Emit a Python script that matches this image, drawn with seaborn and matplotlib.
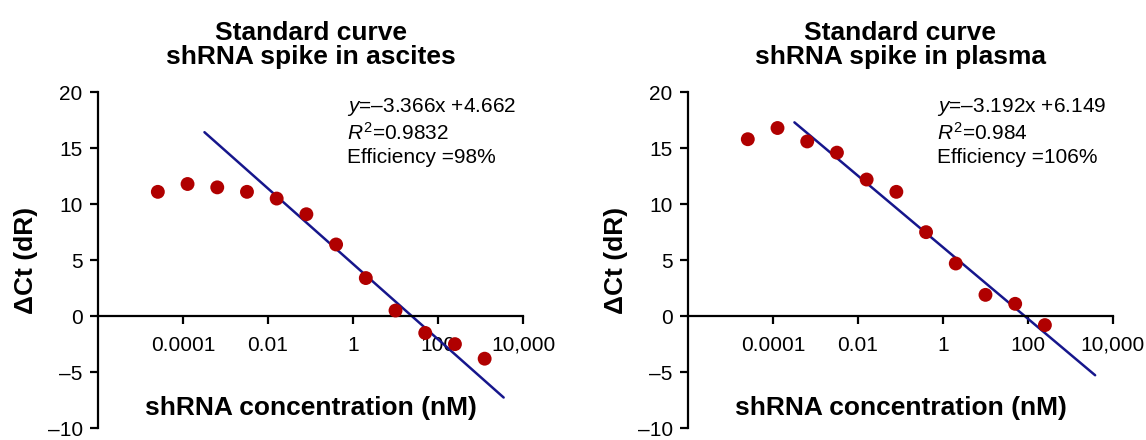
import numpy as np
import pandas as pd
import seaborn as sns
import matplotlib.pyplot as plt

# 5-fold dilution series (nM)
conc = [0.0000256, 0.000128, 0.00064, 0.0032, 0.016, 0.08, 0.4, 2, 10, 50, 250, 1250]

# delta Ct
ascites_dct = [11.1, 11.8, 11.5, 11.1, 10.5, 9.1, 6.4, 3.4, 0.5, -1.5, -2.5, -3.8]
plasma_dct = [15.8, 16.8, 15.6, 14.6, 12.2, 11.1, 7.5, 4.7, 1.9, 1.1, -0.8]

# fitted lines as printed on the chart, with the x-range they are drawn over
ascites_fit = {'slope': -3.366, 'intercept': 4.662, 'x': [3.2e-4, 3500]}
plasma_fit = {'slope': -3.192, 'intercept': 6.149, 'x': [3.2e-4, 3800]}

ascites_note = '$y$=\u20133.366x +4.662\n$R^{\\mathrm{2}}$=0.9832\nEfficiency =98%'
plasma_note = '$y$=\u20133.192x +6.149\n$R^{\\mathrm{2}}$=0.984\nEfficiency =106%'

titles = ['Standard curve\nshRNA spike in ascites', 'Standard curve\nshRNA spike in plasma']

x_ticks = [1e-4, 1e-2, 1, 100, 1e4]
x_ticklabels = ['0.0001', '0.01', '1', '100', '10,000']
y_ticks = [-10, -5, 0, 5, 10, 15, 20]
y_ticklabels = ['\u201310', '\u20135', '0', '5', '10', '15', '20']

sns.set_style('ticks')
plt.rcParams['font.family'] = ['Liberation Sans', 'DejaVu Sans']
plt.rcParams['mathtext.fontset'] = 'custom'
plt.rcParams['mathtext.rm'] = 'Liberation Sans'
plt.rcParams['mathtext.it'] = 'Liberation Sans:italic'
plt.rcParams['text.color'] = 'black'
plt.rcParams['axes.labelcolor'] = 'black'

DOT = '#b00000'
LINE = '#16168c'


def draw_panel(ax, dct, fit, note, title):
    df = pd.DataFrame({'conc': conc[:len(dct)], 'dct': dct})
    fx = np.array(fit['x'])
    fit_df = pd.DataFrame({'conc': fx, 'dct': fit['slope'] * np.log10(fx) + fit['intercept']})

    sns.lineplot(data=fit_df, x='conc', y='dct', ax=ax, color=LINE, lw=1.8, zorder=2)
    sns.scatterplot(data=df, x='conc', y='dct', ax=ax, color=DOT, s=100,
                    edgecolor='none', zorder=3)

    ax.set_xscale('log')
    ax.set_xlim(1e-6, 1e4)
    ax.set_ylim(-10, 20)
    ax.set_xticks(x_ticks)
    ax.set_xticklabels(x_ticklabels)
    ax.xaxis.set_minor_locator(plt.NullLocator())
    ax.set_yticks(y_ticks)
    ax.set_yticklabels(y_ticklabels)

    ax.spines['bottom'].set_position(('data', 0))
    ax.spines['top'].set_visible(False)
    ax.spines['right'].set_visible(False)
    for s in ['left', 'bottom']:
        ax.spines[s].set_linewidth(1.6)
        ax.spines[s].set_color('black')
    ax.tick_params(axis='both', which='major', labelsize=15, width=1.6,
                   length=6, colors='black', labelcolor='black')
    ax.tick_params(axis='x', pad=8)
    ax.tick_params(axis='y', pad=5)

    ax.set_xlabel('shRNA concentration (nM)', fontsize=19, fontweight='bold')
    ax.xaxis.set_label_coords(0.5, 0.095)
    ax.set_ylabel('\u0394Ct (dR)', fontsize=19, fontweight='bold')
    ax.yaxis.set_label_coords(-0.14, 0.5)

    ax.set_title(title, fontsize=19, fontweight='bold', pad=20, linespacing=1.02)
    ax.text(0.585, 0.99, note, transform=ax.transAxes, fontsize=15,
            va='top', ha='left', linespacing=1.25)


fig = plt.figure(figsize=(11.46, 4.4), dpi=100)
ax1 = fig.add_axes([0.0855, 0.027, 0.3709, 0.7635])
ax2 = fig.add_axes([0.6003, 0.027, 0.3709, 0.7635])

draw_panel(ax1, ascites_dct, ascites_fit, ascites_note, titles[0])
draw_panel(ax2, plasma_dct, plasma_fit, plasma_note, titles[1])

fig.savefig('out.png', dpi=100)
